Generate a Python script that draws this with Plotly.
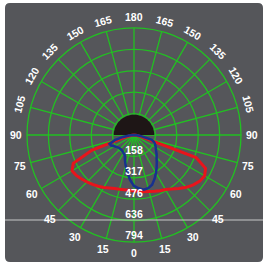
import math
import plotly.graph_objects as go

# ---------------- data ----------------
ANGLES = [0, 5, 10, 15, 20, 25, 30, 35, 40, 45, 50, 55, 60, 65, 70, 75, 80, 85, 90]
RED_RIGHT = [416, 419, 427, 434, 445, 456, 467, 490, 519, 549, 575, 597, 605, 586, 490, 74, 30, 15, 0]
RED_LEFT = [416, 412, 412, 416, 423, 434, 449, 464, 479, 493, 508, 523, 531, 497, 334, 89, 30, 15, 0]
BLUE_RIGHT = [378, 397, 412, 408, 393, 360, 326, 293, 263, 237, 219, 200, 186, 174, 160, 137, 59, 22, 0]
BLUE_LEFT = [378, 334, 282, 237, 197, 163, 156, 148, 145, 145, 148, 156, 167, 186, 193, 148, 82, 37, 0]

R_MAX = 794
RING_LABELS = ["158", "317", "476", "636", "794"]
ANGLE_TICKS = [0, 15, 30, 45, 60, 75, 90, 105, 120, 135, 150, 165, 180]
LUMINAIRE_R = 150

W, H = 265, 263
CX, CY, RPX = 134, 135, 107  # polar centre / radius in pixels

GRAY = "#55565a"
GREEN = "#22c022"
FONT = dict(color="white", size=10.5, family="Liberation Sans, Arial")


def full(left, right):
    th = [-a for a in reversed(ANGLES)] + ANGLES[1:]
    r = list(reversed(left)) + right[1:]
    return th, r


fig = go.Figure()

# luminaire symbol (half disc)
disc_th = list(range(90, 271, 5))
fig.add_trace(go.Scatterpolar(
    r=[LUMINAIRE_R] * len(disc_th) + [0],
    theta=disc_th + [180],
    mode="lines", fill="toself", fillcolor="#1e1616",
    line=dict(width=0, color="#1e1616"), hoverinfo="skip", showlegend=False))

th, r = full(RED_LEFT, RED_RIGHT)
fig.add_trace(go.Scatterpolar(r=r, theta=th, mode="lines", hoverinfo="skip",
                              line=dict(color="#e8141c", width=3), showlegend=False))
th, r = full(BLUE_LEFT, BLUE_RIGHT)
fig.add_trace(go.Scatterpolar(r=r, theta=th, mode="lines", hoverinfo="skip",
                              line=dict(color="#17318f", width=2.5), showlegend=False))

ring_vals = [R_MAX * (i + 1) / len(RING_LABELS) for i in range(len(RING_LABELS))]
fig.add_trace(go.Scatterpolar(r=ring_vals, theta=[0] * len(ring_vals), mode="text",
                              text=[f"<b>{t}</b>" for t in RING_LABELS],
                              textposition="top center", textfont=FONT,
                              showlegend=False, hoverinfo="skip"))

dom_x = [(CX - RPX) / W, (CX + RPX) / W]
dom_y = [1 - (CY + RPX) / H, 1 - (CY - RPX) / H]

fig.update_layout(
    width=W, height=H,
    margin=dict(l=0, r=0, t=0, b=0),
    paper_bgcolor="white",
    showlegend=False,
    hovermode=False,
    dragmode=False,
    polar=dict(
        domain=dict(x=dom_x, y=dom_y),
        bgcolor="rgba(0,0,0,0)",
        radialaxis=dict(range=[0, R_MAX], tickvals=ring_vals, showticklabels=False,
                        ticks="", showline=False, linecolor="rgba(0,0,0,0)", linewidth=0,
                        gridcolor=GREEN, gridwidth=1.3),
        angularaxis=dict(rotation=270, direction="counterclockwise",
                         tickvals=list(range(0, 360, 15)), showticklabels=False, ticks="",
                         gridcolor=GREEN, gridwidth=1.3, linecolor=GREEN, linewidth=1.3,
                         showline=True),
    ),
)

# rounded gray panel
x0, x1 = 5 / W, 263 / W
y0, y1 = 1 - 262 / H, 1 - 3 / H
rx, ry = 5 / W, 5 / H
path = (f"M {x0+rx},{y0} L {x1-rx},{y0} Q {x1},{y0} {x1},{y0+ry} "
        f"L {x1},{y1-ry} Q {x1},{y1} {x1-rx},{y1} L {x0+rx},{y1} "
        f"Q {x0},{y1} {x0},{y1-ry} L {x0},{y0+ry} Q {x0},{y0} {x0+rx},{y0} Z")
fig.add_shape(type="path", path=path, xref="paper", yref="paper",
              fillcolor=GRAY, line=dict(width=0), layer="below")

# thin light separator line
fig.add_shape(type="line", xref="paper", yref="paper", x0=x0, x1=x1,
              y0=1 - 220 / H, y1=1 - 220 / H, line=dict(color="#c8c8c8", width=1),
              layer="above")

# angular labels
RL = RPX * 1.105
for v in ANGLE_TICKS:
    sides = [v] if v in (0, 180) else [v, -v]
    for a in sides:
        t = math.radians(a)
        px = CX + RL * math.sin(t)
        py = CY + RL * math.cos(t)
        if 90 < v < 180:
            ang = (180 - v) if a > 0 else -(180 - v)
        else:
            ang = 0
        fig.add_annotation(x=px / W, y=1 - py / H, xref="paper", yref="paper",
                           text=f"<b>{v}</b>", showarrow=False, textangle=ang,
                           font=FONT, xanchor="center", yanchor="middle")

fig.write_html("out.html", config={"staticPlot": True, "displayModeBar": False},
               post_script="document.body.style.margin='0';")
